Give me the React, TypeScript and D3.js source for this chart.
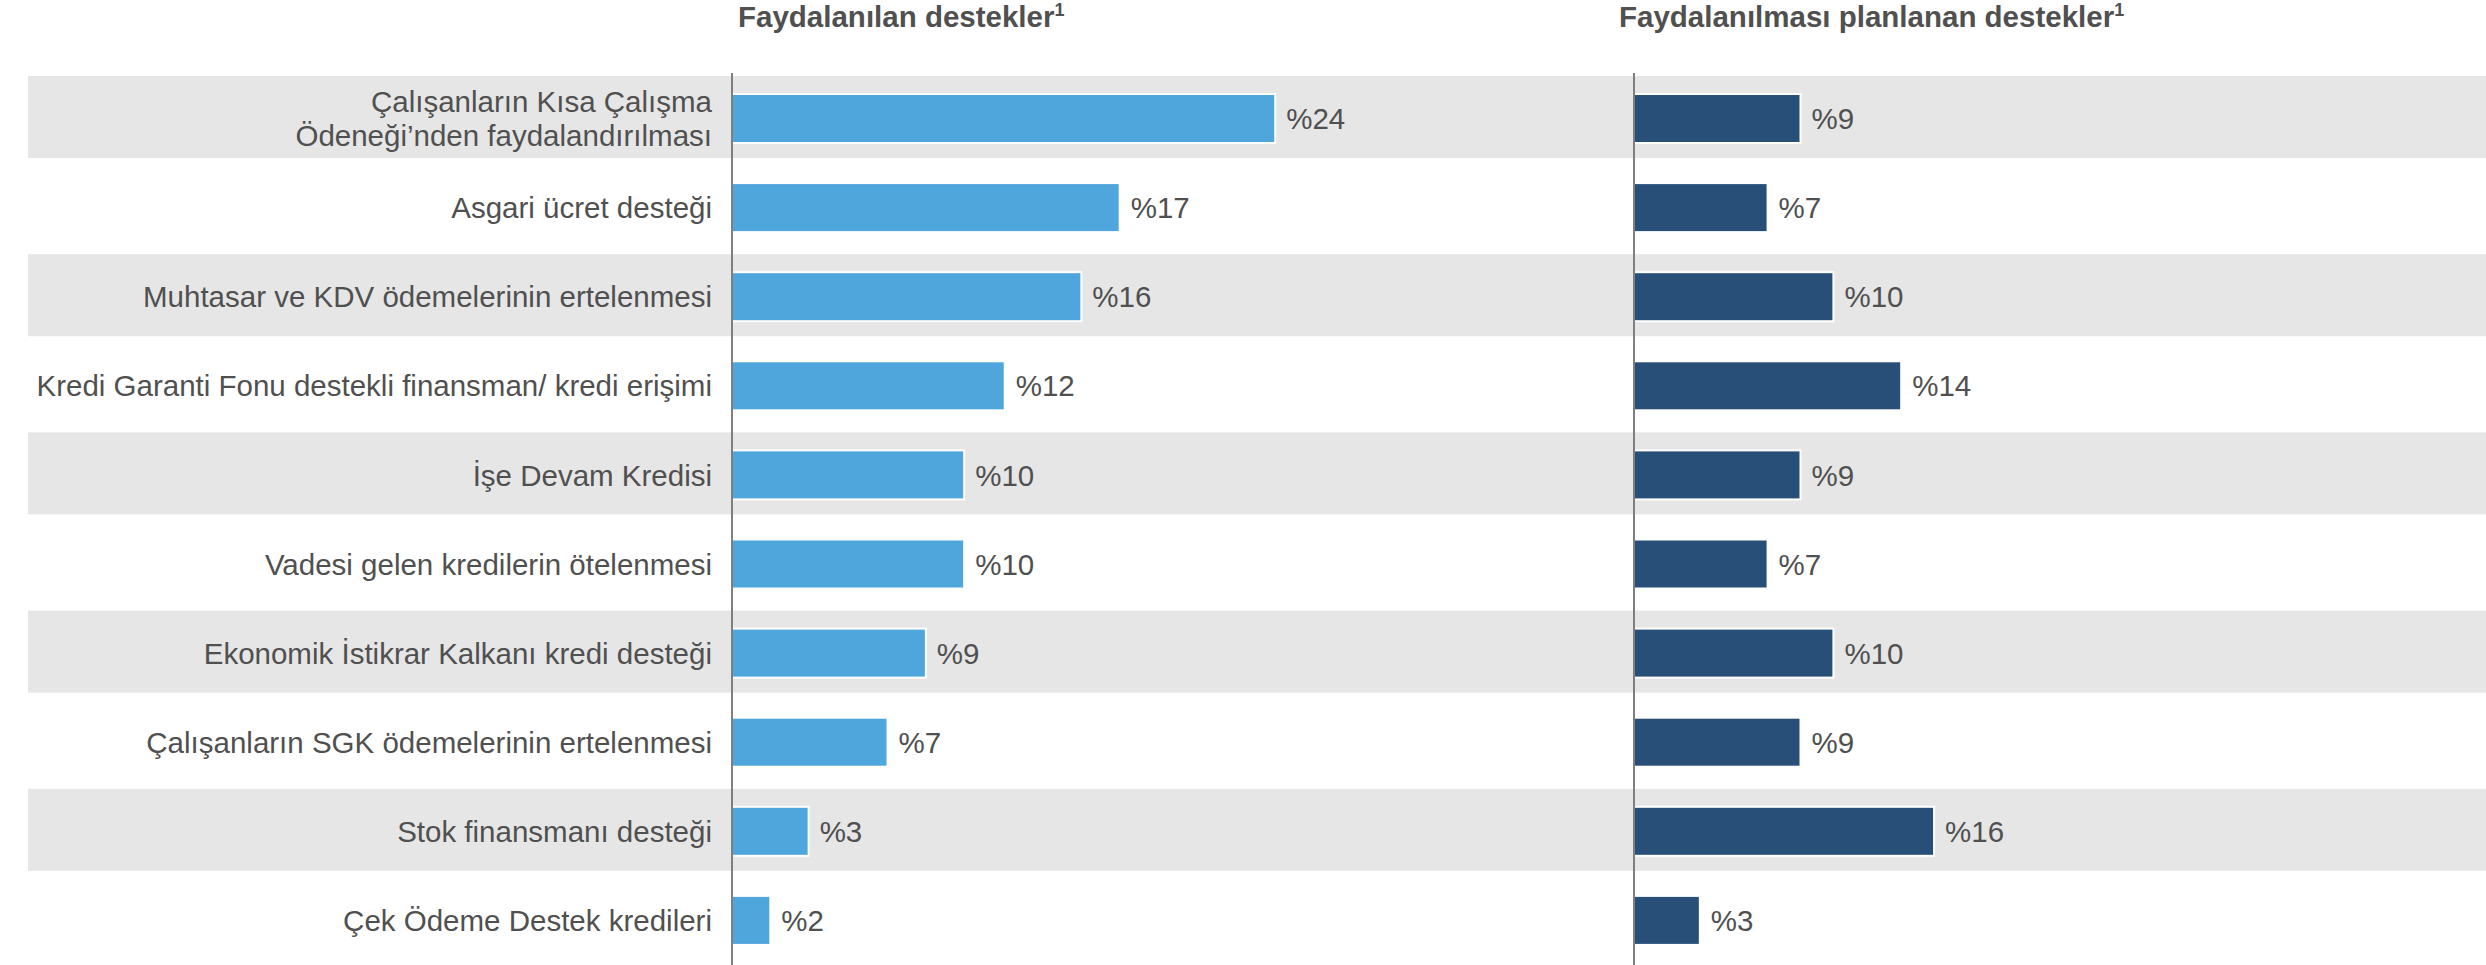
import React from "react";
import * as d3 from "d3";

const categories = [
  ["Çalışanların Kısa Çalışma", "Ödeneği’nden faydalandırılması"],
  ["Asgari ücret desteği"],
  ["Muhtasar ve KDV ödemelerinin ertelenmesi"],
  ["Kredi Garanti Fonu destekli finansman/ kredi erişimi"],
  ["İşe Devam Kredisi "],
  ["Vadesi gelen kredilerin ötelenmesi"],
  ["Ekonomik İstikrar Kalkanı kredi desteği"],
  ["Çalışanların SGK ödemelerinin ertelenmesi"],
  ["Stok finansmanı desteği"],
  ["Çek Ödeme Destek kredileri"],
];

const usedValues = [24.1, 17.2, 15.5, 12.1, 10.3, 10.3, 8.6, 6.9, 3.4, 1.7];
const usedLabels = ["%24", "%17", "%16", "%12", "%10", "%10", "%9", "%7", "%3", "%2"];
const plannedValues = [8.6, 6.9, 10.3, 13.8, 8.6, 6.9, 10.3, 8.6, 15.5, 3.4];
const plannedLabels = ["%9", "%7", "%10", "%14", "%9", "%7", "%10", "%9", "%16", "%3"];

const titleUsed = "Faydalanılan destekler";
const titlePlanned = "Faydalanılması planlanan destekler";

const W = 2486;
const H = 965;
const FONT = "'Liberation Sans', Arial, sans-serif";

export default function App() {
  const idx = categories.map((_, i) => String(i));
  const y = d3.scaleBand<string>().domain(idx).range([76, 76 + 89.1 * 10]).padding(0);
  const xL = d3.scaleLinear().domain([0, 10]).range([732, 732 + 225.4]);
  const xR = d3.scaleLinear().domain([0, 10]).range([1634, 1634 + 193.6]);
  const bandH = 82;
  const barH = 49;
  const textColor = "#505050";
  const fs = 29.5;

  return (
    <svg
      width={W}
      height={H}
      style={{ position: "absolute", left: 0, top: 0, background: "#fff" }}
      fontFamily={FONT}
    >
      {idx.map((k, i) =>
        i % 2 === 0 ? (
          <rect key={"bg" + k} x={28} y={y(k)!} width={W - 28} height={bandH} fill="#E6E6E6" />
        ) : null
      )}
      {idx.map((k, i) => {
        const cy = y(k)! + bandH / 2 + 1.5;
        const lines = categories[i];
        const lh = 34;
        return (
          <text
            key={"lab" + k}
            x={712}
            y={cy}
            textAnchor="end"
            fontSize={fs}
            fill={textColor}
          >
            {lines.map((ln, j) => (
              <tspan
                key={j}
                x={712}
                dy={j === 0 ? (-(lines.length - 1) * lh) / 2 + fs * 0.36 : lh}
              >
                {ln}
              </tspan>
            ))}
          </text>
        );
      })}
      {idx.map((k, i) => {
        const cy = y(k)! + bandH / 2 + 1.5;
        return (
          <g key={"bl" + k}>
            <rect
              x={xL(0)}
              y={cy - barH / 2}
              width={xL(usedValues[i]) - xL(0)}
              height={barH}
              fill="#4FA6DD"
              stroke="#fff"
              strokeWidth={2}
            />
            <text x={xL(usedValues[i]) + 11} y={cy + fs * 0.36} fontSize={fs} fill={textColor}>
              {usedLabels[i]}
            </text>
            <rect
              x={xR(0)}
              y={cy - barH / 2}
              width={xR(plannedValues[i]) - xR(0)}
              height={barH}
              fill="#284F77"
              stroke="#fff"
              strokeWidth={2}
            />
            <text x={xR(plannedValues[i]) + 11} y={cy + fs * 0.36} fontSize={fs} fill={textColor}>
              {plannedLabels[i]}
            </text>
          </g>
        );
      })}
      <line x1={xL(0)} x2={xL(0)} y1={73} y2={H} stroke="#7F7F7F" strokeWidth={2} />
      <line x1={xR(0)} x2={xR(0)} y1={73} y2={H} stroke="#7F7F7F" strokeWidth={2} />
      <text x={738} y={27} fontSize={29.5} fontWeight="bold" fill={textColor}>
        {titleUsed}
        <tspan fontSize={18} dy={-11}>1</tspan>
      </text>
      <text x={1619} y={27} fontSize={29.5} fontWeight="bold" fill={textColor}>
        {titlePlanned}
        <tspan fontSize={18} dy={-11}>1</tspan>
      </text>
    </svg>
  );
}
